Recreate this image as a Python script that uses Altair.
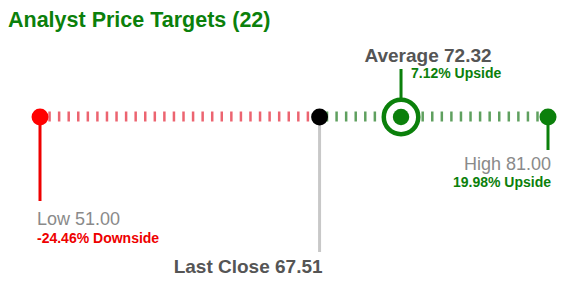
import altair as alt
import pandas as pd
import numpy as np

# ---- data ----
title_text = "Analyst Price Targets (22)"
labels = ["Low", "Last Close", "Average", "High"]
prices = [51.00, 67.51, 72.32, 81.00]
tick_step = 0.565

low, last, avg, high = prices


def pct(v):
    return (v - last) / last * 100


FONT = "Liberation Sans"
GREEN = "#0b800b"
RED = "#ee0000"
GRAY_TXT = "#8a8a8a"
DARK_TXT = "#555555"

xscale = alt.Scale(domain=[low, high], range=[40, 548])
X = alt.X("price:Q", scale=xscale, axis=None)


def one(v, text=""):
    return pd.DataFrame({"price": [v], "text": [text]})


ticks = pd.DataFrame({"price": np.arange(low, high, tick_step)})
ticks["side"] = np.where(ticks["price"] < last, "down", "up")

tick_layer = alt.Chart(ticks).mark_tick(thickness=2.5, size=10, opacity=1).encode(
    x=X,
    y=alt.value(116.5),
    color=alt.Color("side:N", scale=alt.Scale(domain=["down", "up"], range=["#ec6470", "#5fa05f"]), legend=None),
)


def rule(v, color, y1, y2):
    return alt.Chart(one(v)).mark_rule(color=color, strokeWidth=3).encode(
        x=X, y=alt.value(y1), y2=alt.value(y2)
    )


def dot(v, color, size):
    return alt.Chart(one(v)).mark_circle(color=color, size=size, opacity=1).encode(x=X, y=alt.value(117))


def txt(v, text, y, size, color, bold, align, dx=0):
    return alt.Chart(one(v, text)).mark_text(
        font=FONT, fontSize=size, color=color, fontWeight="bold" if bold else "normal",
        align=align, baseline="alphabetic", dx=dx
    ).encode(x=X, y=alt.value(y), text="text:N")


ring = alt.Chart(one(avg)).mark_circle(
    size=1190, fill="white", stroke=GREEN, strokeWidth=4.5, opacity=1, fillOpacity=1
).encode(x=X, y=alt.value(117))

title = alt.Chart(one(low, title_text)).mark_text(
    font=FONT, fontSize=21.5, fontWeight="bold", color=GREEN, align="left", baseline="alphabetic"
).encode(x=alt.value(8), y=alt.value(27), text="text:N")

layers = [
    tick_layer,
    rule(low, RED, 117, 201),
    rule(last, "#c8c8c8", 117, 252),
    rule(high, GREEN, 117, 150),
    rule(avg, GREEN, 69, 99),
    dot(low, "#ff0000", 285),
    dot(last, "#000000", 285),
    dot(high, GREEN, 290),
    ring,
    dot(avg, GREEN, 270),
    title,
    txt(low, f"{labels[0]} {low:.2f}", 225, 18, GRAY_TXT, False, "left", -3),
    txt(low, f"{pct(low):.2f}% Downside", 243, 14, RED, True, "left", -3),
    txt(last, f"{labels[1]} {last:.2f}", 273, 19, DARK_TXT, True, "right", 3),
    txt(avg, f"{labels[2]} {avg:.2f}", 62, 19, DARK_TXT, True, "center", 27),
    txt(avg, f"{pct(avg):.2f}% Upside", 78, 14, GREEN, True, "left", 10),
    txt(high, f"{labels[3]} {high:.2f}", 170, 18, GRAY_TXT, False, "right", 3),
    txt(high, f"{pct(high):.2f}% Upside", 187, 14, GREEN, True, "right", 3),
]

chart = alt.layer(*layers).properties(
    width=574, height=292,
    autosize=alt.AutoSizeParams(type="fit", contains="padding"),
    padding=0,
    background="white",
).configure_view(stroke=None, strokeWidth=0)

chart.save("out.html", embed_options={"renderer": "svg", "actions": False})
